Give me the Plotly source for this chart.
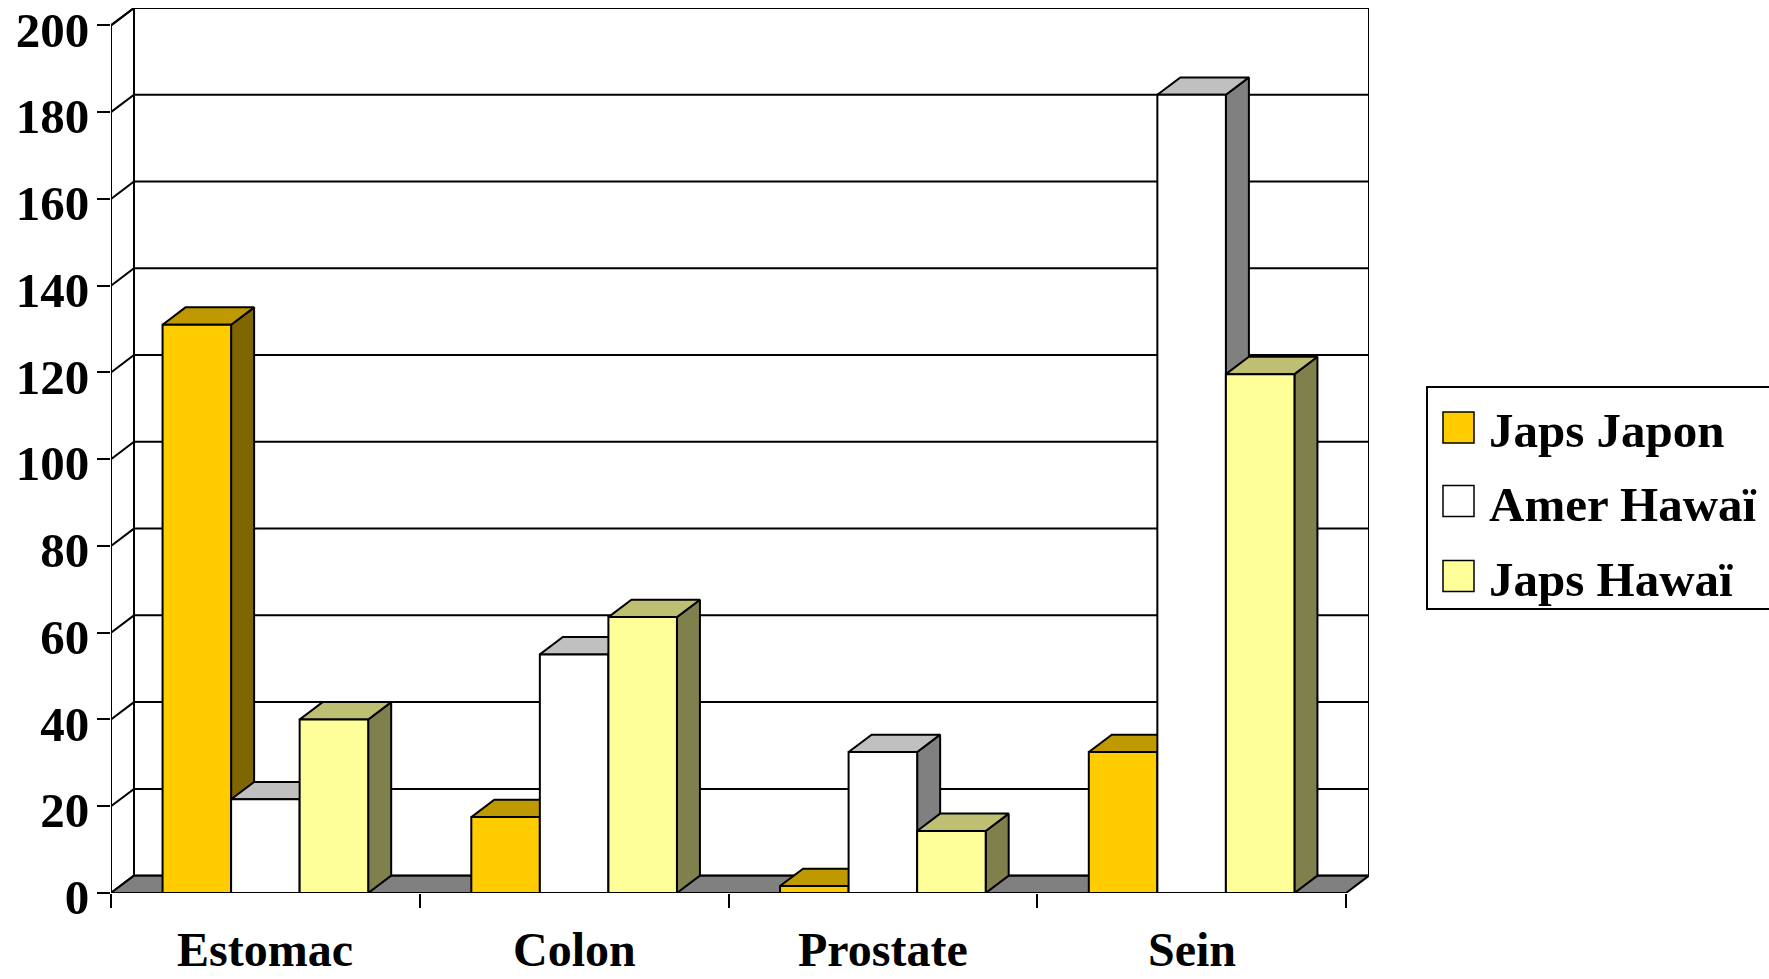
import plotly.graph_objects as go

# ---- data -------------------------------------------------------------
categories = ["Estomac", "Colon", "Prostate", "Sein"]
series_names = ["Japs Japon", "Amer Hawaï", "Japs Hawaï"]
japs_japon = [131, 17.5, 1.6, 32.5]
amer_hawai = [21.6, 55, 32.5, 184]
japs_hawai = [40, 63.6, 14.3, 119.6]
y_ticks = list(range(0, 201, 20))

series_values = [japs_japon, amer_hawai, japs_hawai]

# ---- styling ----------------------------------------------------------
# (front, top, side) shades for each series
shades = [
    ("#FFCC00", "#BF9900", "#806600"),
    ("#FFFFFF", "#C0C0C0", "#808080"),
    ("#FFFF99", "#BFBF73", "#80804D"),
]
FONT = "Liberation Serif, Times New Roman, serif"
W, H = 1769, 979
ML, MR, MT, MB = 111, 400, 8, 86

DX = 0.0745     # depth offset along x (category units)
DY = 4.0        # depth offset along y (value units)
BAR_W = 0.222   # width of one bar (category units)
X0, X1 = -0.5, len(categories) - 0.5
Y_TOP = y_ticks[-1]

fig = go.Figure()


def poly(xs, ys, fill, width=2):
    fig.add_trace(go.Scatter(
        x=list(xs) + [xs[0]], y=list(ys) + [ys[0]],
        mode="lines", fill="toself", fillcolor=fill,
        line=dict(color="black", width=width),
        hoverinfo="skip", showlegend=False,
    ))


def lines(xs, ys, width=2):
    fig.add_trace(go.Scatter(
        x=xs, y=ys, mode="lines",
        line=dict(color="black", width=width),
        hoverinfo="skip", showlegend=False,
    ))


# back wall (white) and left side wall
poly([X0 + DX, X1 + DX, X1 + DX, X0 + DX], [DY, DY, Y_TOP + DY, Y_TOP + DY], "white")
poly([X0, X0 + DX, X0 + DX, X0], [0, DY, Y_TOP + DY, Y_TOP], "white")

# gridlines on the back wall and their diagonals on the side wall
gx, gy = [], []
for v in y_ticks:
    gx += [X0, X0 + DX, X1 + DX, None]
    gy += [v, v + DY, v + DY, None]
lines(gx, gy)

# floor
poly([X0, X1, X1 + DX, X0 + DX], [0, 0, DY, DY], "#808080")

# bars: side, top, front, drawn left to right
for ci in range(len(categories)):
    for si, vals in enumerate(series_values):
        v = vals[ci]
        front, top, side = shades[si]
        xa = ci - 1.5 * BAR_W + si * BAR_W
        xb = xa + BAR_W
        poly([xb, xb + DX, xb + DX, xb], [0, DY, v + DY, v], side)
        poly([xa, xb, xb + DX, xa + DX], [v, v, v + DY, v + DY], top)
        poly([xa, xb, xb, xa], [0, 0, v, v], front)

# front value axis line
lines([X0, X0], [0, Y_TOP])


def px_x(px):
    return (px - ML) / (W - ML - MR)


def px_y(py):
    return (H - MB - py) / (H - MT - MB)


# category labels
for ci, name in enumerate(categories):
    fig.add_annotation(
        x=ci, y=px_y(978), xref="x", yref="paper",
        text=name, showarrow=False, xanchor="center", yanchor="bottom",
        font=dict(family=FONT, size=48, color="black", weight="bold"),
    )

# legend box
shapes = [dict(
    type="rect", xref="paper", yref="paper",
    x0=px_x(1427), x1=px_x(1790), y0=px_y(609), y1=px_y(387),
    line=dict(color="black", width=2), fillcolor="white", layer="above",
)]
row_centers = [427.5, 501, 576]
for si, name in enumerate(series_names):
    cy = row_centers[si]
    shapes.append(dict(
        type="rect", xref="paper", yref="paper",
        x0=px_x(1443), x1=px_x(1474), y0=px_y(cy + 15.5), y1=px_y(cy - 15.5),
        line=dict(color="black", width=1.5), fillcolor=shades[si][0], layer="above",
    ))
    fig.add_annotation(
        x=px_x(1487), y=px_y(cy + 3), xref="paper", yref="paper",
        text=name, showarrow=False, xanchor="left", yanchor="middle",
        font=dict(family=FONT, size=49, color="black", weight="bold"),
    )

fig.update_layout(
    width=W, height=H,
    margin=dict(l=ML, r=MR, t=MT, b=MB, pad=0, autoexpand=False),
    paper_bgcolor="white", plot_bgcolor="white",
    showlegend=False,
    shapes=shapes,
    xaxis=dict(
        range=[X0, X1 + DX], showgrid=False, zeroline=False, showline=False,
        tickmode="array", tickvals=[i - 0.5 for i in range(len(categories) + 1)],
        showticklabels=False, ticks="outside", ticklen=14, tickwidth=2,
        tickcolor="black", fixedrange=True, automargin=False,
    ),
    yaxis=dict(
        range=[0, Y_TOP + DY], showgrid=False, zeroline=False, showline=False,
        tickmode="array", tickvals=y_ticks, ticks="outside", ticklen=13,
        tickwidth=2, tickcolor="black", ticklabelstandoff=-2, ticklabelshift=4,
        ticklabeloverflow="allow", automargin=False,
        tickfont=dict(family=FONT, size=49, color="black", weight="bold"),
        fixedrange=True,
    ),
)

fig.write_html("out.html")
